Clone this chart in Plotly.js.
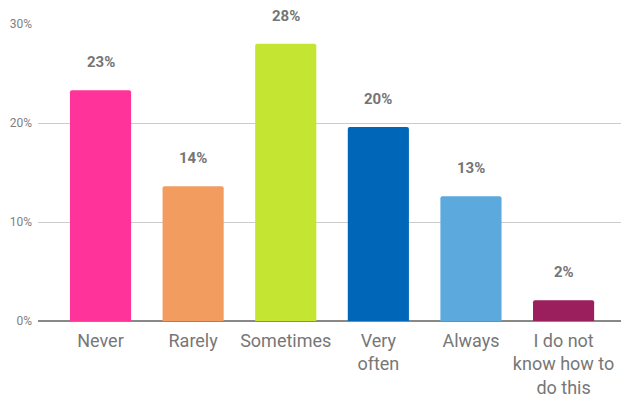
<!DOCTYPE html>
<html>
<head>
<meta charset="utf-8">
<script src="https://cdn.plot.ly/plotly-3.0.1.min.js"></script>
<style>html,body{margin:0;padding:0;background:#fff;}#chart{width:621px;height:398px;}</style>
</head>
<body>
<div id="chart"></div>
<script>
const categories = ["Never", "Rarely", "Sometimes", "Very often", "Always", "I do not know how to do this"];
const tickLabels = ["Never", "Rarely", "Sometimes", "Very<br>often", "Always", "I do not<br>know how to<br>do this"];
const values = [23.3, 13.6, 28.0, 19.6, 12.6, 2.1];
const colors = ["#ff339a", "#f29c60", "#c4e531", "#0066b8", "#5ca9de", "#9b1f5d"];
const yTickVals = [0, 10, 20, 30];
const yTickText = ["0%", "10%", "20%", "30%"];

const trace = {
  type: "bar",
  x: categories,
  y: values,
  marker: { color: colors, cornerradius: 2, line: { width: 0 } },
  width: 0.66,
  hoverinfo: "none"
};

const annotations = categories.map((c, i) => ({
  x: c, y: values[i], xref: "x", yref: "y",
  text: Math.round(values[i]) + "%",
  showarrow: false, yanchor: "bottom", yshift: 17,
  font: { family: "Roboto, sans-serif", size: 15, color: "#757575", weight: "bold" }
}));

const layout = {
  width: 621, height: 398,
  margin: { l: 38, r: 0, t: 24, b: 77 },
  paper_bgcolor: "#fff", plot_bgcolor: "#fff",
  showlegend: false,
  font: { family: "Roboto, sans-serif", color: "#757575" },
  xaxis: {
    type: "category",
    tickvals: categories, ticktext: tickLabels,
    range: [-0.675, 5.62],
    showgrid: false, showline: false, ticks: "",
    ticklabelstandoff: 7,
    tickfont: { size: 18, color: "#777777" },
    fixedrange: true
  },
  yaxis: {
    range: [0, 30], tickvals: yTickVals, ticktext: yTickText,
    showgrid: true, gridcolor: "#cccccc", gridwidth: 1,
    zeroline: true, zerolinecolor: "#888888", zerolinewidth: 2,
    showline: false, ticks: "",
    ticklabelstandoff: 5,
    tickfont: { size: 12, color: "#808080" },
    fixedrange: true
  },
  annotations: annotations
};

Plotly.newPlot("chart", [trace], layout, { displayModeBar: false, staticPlot: true });
</script>
</body>
</html>
